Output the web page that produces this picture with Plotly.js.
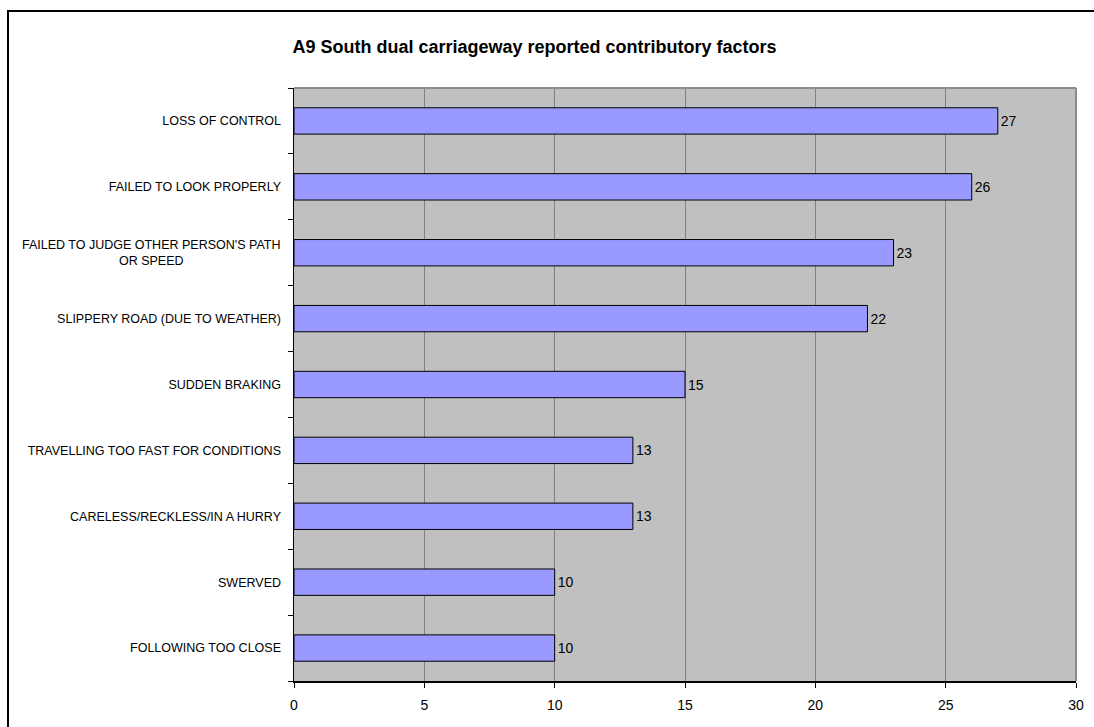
<!DOCTYPE html>
<html>
<head>
<meta charset="utf-8">
<script src="https://cdn.plot.ly/plotly-3.0.1.min.js"></script>
<style>
html,body{margin:0;padding:0;background:#fff;}
#chart{width:1094px;height:727px;}
</style>
</head>
<body>
<div id="chart"></div>
<script>
const chartTitle = 'A9 South dual carriageway reported contributory factors';
const categories = [
  'LOSS OF CONTROL',
  'FAILED TO LOOK PROPERLY',
  "FAILED TO JUDGE OTHER PERSON'S PATH OR SPEED",
  'SLIPPERY ROAD (DUE TO WEATHER)',
  'SUDDEN BRAKING',
  'TRAVELLING TOO FAST FOR CONDITIONS',
  'CARELESS/RECKLESS/IN A HURRY',
  'SWERVED',
  'FOLLOWING TOO CLOSE'
];
const tickLabels = [
  'LOSS OF CONTROL',
  'FAILED TO LOOK PROPERLY',
  '',
  'SLIPPERY ROAD (DUE TO WEATHER)',
  'SUDDEN BRAKING',
  'TRAVELLING TOO FAST FOR CONDITIONS',
  'CARELESS/RECKLESS/IN A HURRY',
  'SWERVED',
  'FOLLOWING TOO CLOSE'
];
const wrappedLabel = "FAILED TO JUDGE OTHER PERSON'S PATH<br>OR SPEED";
const wrappedIndex = 2;
const values = [27, 26, 23, 22, 15, 13, 13, 10, 10];
const xTicks = [0, 5, 10, 15, 20, 25, 30];

const font = 'Liberation Sans, Arial, sans-serif';

const trace = {
  type: 'bar',
  orientation: 'h',
  x: values,
  y: categories,
  marker: {color: '#9999FF', line: {color: '#000000', width: 1}},
  text: values.map(String),
  textposition: 'outside',
  constraintext: 'none',
  cliponaxis: false,
  textfont: {family: font, size: 14, color: '#000'},
  hoverinfo: 'x+y'
};

const layout = {
  width: 1094, height: 727,
  margin: {l: 294, r: 18, t: 88, b: 46, pad: 0},
  paper_bgcolor: '#ffffff',
  plot_bgcolor: '#C0C0C0',
  showlegend: false,
  bargap: 0.6,
  title: {
    text: '<b>' + chartTitle + '</b>',
    font: {family: font, size: 18, color: '#000'},
    xref: 'container', x: 0.4886, xanchor: 'center',
    yref: 'container', y: 1 - 47/727, yanchor: 'middle'
  },
  xaxis: {
    range: [0, 30],
    tickvals: xTicks,
    ticktext: xTicks.map(String),
    ticks: 'outside', ticklen: 5, tickcolor: '#000', tickwidth: 1,
    showgrid: true, gridcolor: '#808080', gridwidth: 1,
    zeroline: false,
    showline: true, linecolor: '#000', linewidth: 1.5,
    ticklabelstandoff: 6,
    tickfont: {family: font, size: 14, color: '#000'},
    fixedrange: true
  },
  yaxis: {
    type: 'category',
    categoryorder: 'array',
    categoryarray: categories,
    autorange: 'reversed',
    tickvals: categories,
    ticktext: tickLabels,
    ticks: 'outside', ticklen: 5, tickcolor: '#000', tickwidth: 1,
    tickson: 'boundaries',
    showgrid: false,
    showline: true, linecolor: '#000', linewidth: 1.5,
    ticklabelstandoff: 9,
    tickfont: {family: font, size: 12.5, color: '#000'},
    fixedrange: true
  },
  shapes: [
    {type: 'line', xref: 'paper', yref: 'paper', x0: 0, x1: 1, y0: 1, y1: 1, line: {color: '#8c8c8c', width: 2}},
    {type: 'line', xref: 'paper', yref: 'paper', x0: 1, x1: 1, y0: 0, y1: 1, line: {color: '#8c8c8c', width: 2}},
    {type: 'rect', xref: 'paper', yref: 'paper',
     x0: (8 - 294) / 782, x1: (1100 - 294) / 782,
     y0: -(740 - 681) / 593, y1: 1 + (88 - 11) / 593,
     line: {color: '#000', width: 2}, fillcolor: 'rgba(0,0,0,0)', layer: 'above'}
  ],
  annotations: [
    {xref: 'paper', yref: 'y', x: -12 / 782, y: categories[wrappedIndex],
     xanchor: 'right', yanchor: 'middle', align: 'center',
     text: wrappedLabel, showarrow: false,
     font: {family: font, size: 12.5, color: '#000'}}
  ]
};

Plotly.newPlot('chart', [trace], layout, {displayModeBar: false, staticPlot: true});
</script>
</body>
</html>
